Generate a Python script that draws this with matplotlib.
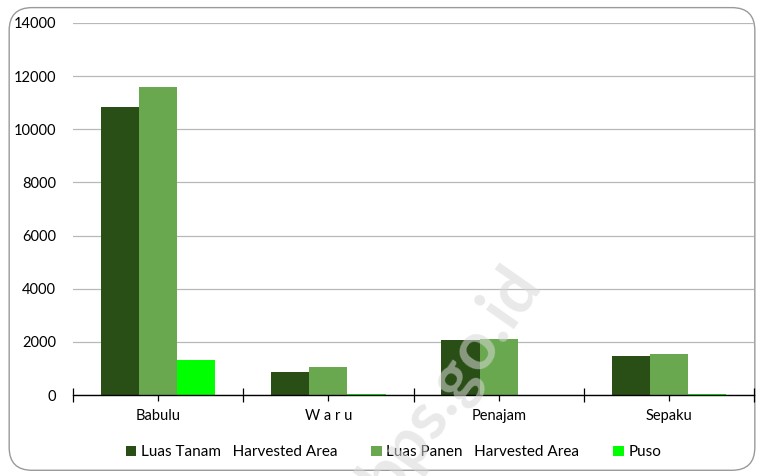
import numpy as np
import matplotlib.pyplot as plt
from matplotlib.patches import FancyBboxPatch

plt.rcParams['font.family'] = ['Lato', 'DejaVu Sans']

# Data
districts = ["Babulu", "W a r u", "Penajam", "Sepaku"]
luas_tanam = [10830, 866, 2055, 1465]
luas_panen = [11580, 1040, 2105, 1545]
puso = [1305, 30, 0, 30]
series_labels = ["Luas Tanam   Harvested Area", "Luas Panen   Harvested Area", "Puso"]
colors = ["#294f16", "#6aa84f", "#00ff00"]

fig = plt.figure(figsize=(7.64, 4.76), dpi=100)

# rounded chart frame
frame = FancyBboxPatch((0.012, 0.012), 0.976, 0.972, boxstyle="round,pad=0,rounding_size=0.03",
                       transform=fig.transFigure, facecolor="none", edgecolor="#9a9a9a",
                       linewidth=1.0, mutation_aspect=764 / 476, zorder=-1)
fig.patches.append(frame)

ax = fig.add_axes([0.0955, 0.170, 0.8915, 0.7817])
ax.set_facecolor("none")

x = np.arange(len(districts))
w = 0.224
for i, (vals, lab, c) in enumerate(zip([luas_tanam, luas_panen, puso], series_labels, colors)):
    ax.bar(x + (i - 1) * w, vals, width=w, color=c, label=lab, zorder=3)

ax.set_xlim(-0.5, len(districts) - 0.5)
ax.set_ylim(0, 14000)
ax.set_yticks(np.arange(0, 14001, 2000))
ax.yaxis.grid(True, color="#b8b8b8", linewidth=0.9, zorder=0)
ax.tick_params(axis="y", length=0, labelsize=10.5, pad=12, colors="#000000")

ax.set_xticks(x)
ax.set_xticklabels(districts, fontsize=10.5)
ax.set_xticks(np.arange(-0.5, len(districts)), minor=True)
ax.tick_params(axis="x", which="major", direction="inout", length=8, width=0.9, pad=6)
ax.tick_params(axis="x", which="minor", direction="inout", length=10, width=0.9)

for s in ["top", "right", "left"]:
    ax.spines[s].set_visible(False)
ax.spines["bottom"].set_color("#000000")
ax.spines["bottom"].set_linewidth(1.0)
ax.spines["bottom"].set_zorder(4)

fig.legend(loc="center", bbox_to_anchor=(0.515, 0.05), ncol=3, frameon=False,
           fontsize=11, handlelength=0.7, handleheight=0.7, handletextpad=0.3,
           columnspacing=2.2)

# faint watermark
fig.text(0.59, 0.20, "bps.go.id", fontsize=48, fontweight="bold", color="#d8d8d8",
         alpha=0.55, rotation=55, ha="center", va="center", zorder=10)

fig.savefig("out.png", dpi=100)
